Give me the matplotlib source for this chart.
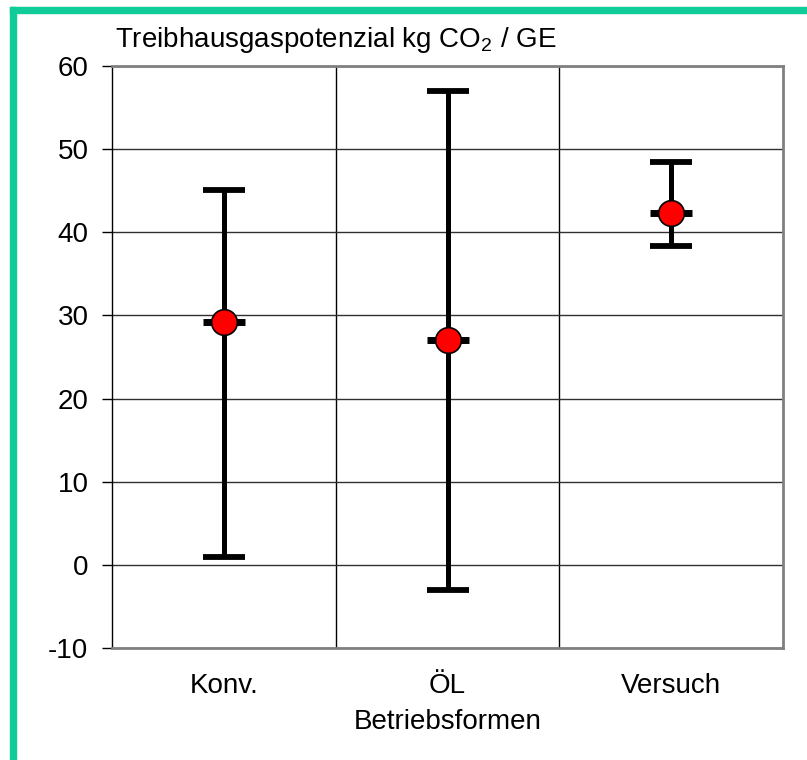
import matplotlib.pyplot as plt
import matplotlib.patches as mpatches

plt.rcParams['font.family'] = ['Liberation Sans', 'DejaVu Sans']
plt.rcParams['mathtext.fontset'] = 'custom'
plt.rcParams['mathtext.rm'] = 'Liberation Sans'
plt.rcParams['axes.unicode_minus'] = False

# Treibhausgaspotenzial je Betriebsform: Mittelwert, Minimum, Maximum
betriebsformen = ['Konv.', 'ÖL', 'Versuch']
mittelwert = [29.2, 27.0, 42.3]
minimum = [1.0, -3.0, 38.4]
maximum = [45.1, 57.0, 48.5]
y_ticks = [-10, 0, 10, 20, 30, 40, 50, 60]

fig = plt.figure(figsize=(8.07, 7.6), dpi=100)
ax = fig.add_axes([0.1388, 0.1474, 0.8315, 0.7658])

# gruener Rahmen links und oben
gruen = '#10CC99'
fig.patches.append(mpatches.Rectangle((10 / 807, 0), 6 / 807, 753 / 760,
                                      transform=fig.transFigure, color=gruen, zorder=0))
fig.patches.append(mpatches.Rectangle((10 / 807, 747 / 760), 797 / 807, 6 / 760,
                                      transform=fig.transFigure, color=gruen, zorder=0))

x = list(range(len(betriebsformen)))
unten = [m - lo for m, lo in zip(mittelwert, minimum)]
oben = [hi - m for m, hi in zip(mittelwert, maximum)]

ax.errorbar(x, mittelwert, yerr=[unten, oben], fmt='none', ecolor='black',
            elinewidth=3.6, capsize=15, capthick=4.2, zorder=3)
ax.plot(x, mittelwert, linestyle='none', marker='_', markersize=30,
        markeredgewidth=5, color='black', zorder=4)
ax.plot(x, mittelwert, linestyle='none', marker='o', markersize=18.5,
        markerfacecolor='#FF0000', markeredgecolor='black', markeredgewidth=1.2, zorder=5)

ax.set_xlim(-0.5, len(betriebsformen) - 0.5)
ax.set_ylim(-10, 60)
ax.set_yticks(y_ticks)
ax.set_xticks(x)
ax.set_xticklabels(betriebsformen)
ax.set_xticks([0.5, 1.5], minor=True)

ax.tick_params(axis='y', labelsize=20, length=7, width=1, pad=10, direction='out')
ax.tick_params(axis='x', which='both', labelsize=20, length=0, pad=18)

ax.grid(axis='y', which='major', color='#303030', linewidth=1)
ax.grid(axis='x', which='minor', color='black', linewidth=1)
ax.set_axisbelow(True)

for seite in ['top', 'right', 'bottom']:
    ax.spines[seite].set_color('#808080')
    ax.spines[seite].set_linewidth(2)
ax.spines['left'].set_color('black')
ax.spines['left'].set_linewidth(1)

ax.set_xlabel('Betriebsformen', fontsize=20, labelpad=7)
ax.text(0.004, 1.033, r'Treibhausgaspotenzial kg CO$_2$ / GE', transform=ax.transAxes,
        fontsize=20, ha='left', va='baseline')

fig.savefig('out.png', dpi=100)
